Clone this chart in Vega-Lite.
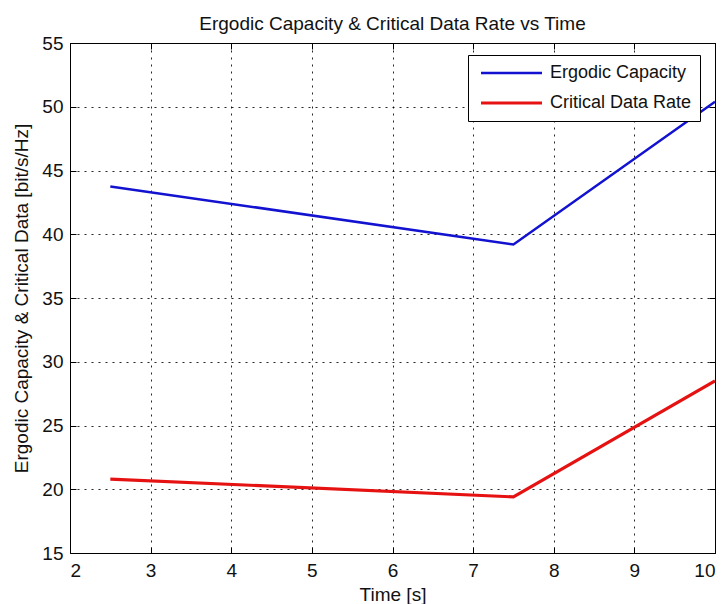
{
  "$schema": "https://vega.github.io/schema/vega-lite/v6.json",
  "autosize": {"type": "none"},
  "width": 645,
  "height": 510,
  "padding": {"left": 70, "top": 43, "right": 10, "bottom": 51},
  "background": "white",
  "config": {
    "font": "Liberation Sans",
    "view": {"stroke": "#000", "strokeWidth": 1},
    "axis": {
      "labelFont": "Liberation Sans",
      "titleFont": "Liberation Sans",
      "labelFontSize": 19,
      "titleFontSize": 19,
      "titleFontWeight": "normal",
      "labelColor": "#111",
      "titleColor": "#111",
      "domain": false,
      "tickColor": "#000",
      "tickSize": -6,
      "tickWidth": 1,
      "gridColor": "#000",
      "gridDash": [2, 5],
      "gridWidth": 1,
      "gridOpacity": 0.85
    },
    "title": {"font": "Liberation Sans", "fontSize": 19, "fontWeight": "normal", "color": "#111"}
  },
  "title": {"text": "Ergodic Capacity & Critical Data Rate vs Time", "anchor": "middle", "offset": 0},
  "data": {
    "values": [
      {"series": "Ergodic Capacity", "t": 2.5, "value": 43.75},
      {"series": "Ergodic Capacity", "t": 7.5, "value": 39.2},
      {"series": "Ergodic Capacity", "t": 10, "value": 50.4},
      {"series": "Critical Data Rate", "t": 2.5, "value": 20.8},
      {"series": "Critical Data Rate", "t": 7.5, "value": 19.4},
      {"series": "Critical Data Rate", "t": 10, "value": 28.5}
    ]
  },
  "layer": [
    {
      "mark": {"type": "line", "clip": true},
      "encoding": {
        "x": {
          "field": "t", "type": "quantitative",
          "scale": {"domain": [2, 10], "nice": false, "zero": false},
          "axis": {"title": "Time [s]", "values": [2, 3, 4, 5, 6, 7, 8, 9, 10], "grid": true, "labelPadding": 14, "titlePadding": 5}
        },
        "y": {
          "field": "value", "type": "quantitative",
          "scale": {"domain": [15, 55], "nice": false, "zero": false},
          "axis": {"title": "Ergodic Capacity & Critical Data [bit/s/Hz]", "values": [15, 20, 25, 30, 35, 40, 45, 50, 55], "grid": true, "labelPadding": 13, "titlePadding": 10}
        },
        "color": {
          "field": "series", "type": "nominal",
          "scale": {"domain": ["Ergodic Capacity", "Critical Data Rate"], "range": ["#1212d0", "#e61212"]},
          "legend": {
            "title": null,
            "orient": "none",
            "legendX": 398,
            "legendY": 12,
            "padding": 8,
            "strokeColor": "#000",
            "fillColor": "#fff",
            "symbolType": "stroke",
            "symbolSize": 3721,
            "symbolStrokeWidth": 3,
            "symbolOffset": 3,
            "labelOffset": 6,
            "clipHeight": 20,
            "rowPadding": 10,
            "labelFont": "Liberation Sans",
            "labelFontSize": 18,
            "labelColor": "#111",
            "labelLimit": 300
          }
        },
        "strokeWidth": {
          "field": "series", "type": "nominal",
          "scale": {"domain": ["Ergodic Capacity", "Critical Data Rate"], "range": [2.5, 3.2]},
          "legend": null
        }
      }
    },
    {
      "mark": {"type": "line", "opacity": 0},
      "encoding": {
        "x": {
          "field": "t", "type": "quantitative",
          "axis": {"orient": "top", "title": null, "labels": false, "grid": false, "values": [2, 3, 4, 5, 6, 7, 8, 9, 10]}
        },
        "y": {
          "field": "value", "type": "quantitative",
          "axis": {"orient": "right", "title": null, "labels": false, "grid": false, "values": [15, 20, 25, 30, 35, 40, 45, 50, 55]}
        },
        "detail": {"field": "series", "type": "nominal"}
      }
    }
  ],
  "resolve": {"axis": {"x": "independent", "y": "independent"}}
}
